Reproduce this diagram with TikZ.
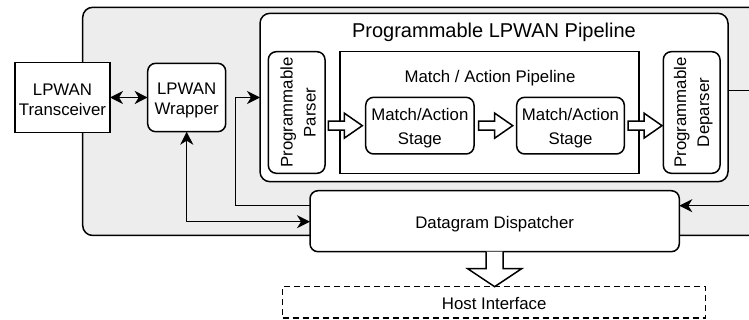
\documentclass[tikz,border=0pt]{standalone}
\usepackage{fontspec}
\setmainfont{Liberation Sans}
\usetikzlibrary{arrows.meta,calc}
\begin{document}
\begin{tikzpicture}[x=1pt,y=-1pt, line width=1.5pt,
  box/.style={draw,fill=white,inner sep=0pt,outer sep=0pt,anchor=north west},
  rbox/.style={box,rounded corners=8pt},
  lbl/.style={font=\fontsize{16.8}{20}\selectfont, align=center, inner sep=0pt},
  tx/.style={lbl, yshift=-2.5pt},
  arr/.style={-{Stealth[length=13pt,width=13pt,inset=4pt]}},
  arrboth/.style={{Stealth[length=13pt,width=13pt,inset=4pt]}-{Stealth[length=13pt,width=13pt,inset=4pt]}},
  hollowR/.pic={\draw[fill=white,line width=1.5pt,line join=miter]
     (0,-4.5) -- (16,-4.5) -- (16,-12.5) -- (34,0) -- (16,12.5) -- (16,4.5) -- (0,4.5) -- cycle;},
  hollowD/.pic={\draw[fill=white,line width=1.5pt,line join=miter]
     (-8.5,0) -- (-8.5,17) -- (-27,17) -- (0,35) -- (27,17) -- (8.5,17) -- (8.5,0);}
]
\useasboundingbox (0,0) rectangle (749,320);
\clip (0,0) rectangle (749,320);
\fill[white] (0,0) rectangle (749,320);

% outer gray box
\node[draw,fill=black!7,rounded corners=10pt,anchor=north west,inner sep=0pt,outer sep=0pt,
      minimum width=707,minimum height=228.2] (outer) at (82.7,7.3) {};

% pipeline
\node[rbox,rounded corners=10pt,minimum width=468,minimum height=168.4] (pipe) at (260,13.3) {};
\node[lbl,font=\fontsize{20}{24}\selectfont] (pipettl) at (494,32) {Programmable LPWAN Pipeline};
\node[rbox,minimum width=56.7,minimum height=121.6] (parser) at (268.3,51.7) {};
\node[box,minimum width=299,minimum height=121.6] (map) at (340,51.7) {};
\node[lbl] (mapttl) at (490,78) {Match / Action Pipeline};
\node[rbox,minimum width=108.3,minimum height=56.7] (s1) at (365.7,97.3) {};
\node[rbox,minimum width=107.6,minimum height=56.7] (s2) at (516.7,97.3) {};
\node[tx,font=\fontsize{16.8}{24}\selectfont] (s1L) at (s1.center) {Match/Action\\Stage};
\node[tx,font=\fontsize{16.8}{24}\selectfont] (s2L) at (s2.center) {Match/Action\\Stage};
\node[rbox,minimum width=56.7,minimum height=121.6] (deparser) at (663.3,51.7) {};
\node[lbl,rotate=90,font=\fontsize{16.8}{23}\selectfont] (parserL) at ($(parser.center)+(1.5,0)$) {Programmable\\Parser};
\node[lbl,rotate=90,font=\fontsize{16.8}{23}\selectfont] (deparserL) at ($(deparser.center)+(1.5,0)$) {Programmable\\Deparser};

% left boxes
\node[box,minimum width=95,minimum height=70.4] (trx) at (15,62.3) {};
\node[tx] (trxL) at (trx.center) {LPWAN\\Transceiver};
\node[rbox,minimum width=78,minimum height=68.4] (wrap) at (147.7,63.3) {};
\node[tx] (wrapL) at (wrap.center) {LPWAN\\Wrapper};

% dispatcher and host
\node[rbox,minimum width=369.3,minimum height=61] (disp) at (310,190.7) {};
\node[tx] (dispL) at (disp.center) {Datagram Dispatcher};
\node[box,dash pattern=on 6pt off 4pt,minimum width=423,minimum height=31.5] (host) at (282.7,286.7) {};
\node[tx,yshift=1pt] (hostL) at (host.center) {Host Interface};

% connectors
\coordinate (kA) at (235.7,205.7);
\coordinate (kB) at (186.7,221.7);
\coordinate (rA) at (760,90.7);
\coordinate (rB) at (760,205.7);
\draw[arrboth] (trx.east) -- (wrap.west);
\draw[arr] (disp.west |- kA) -- (kA) |- (pipe.west);
\draw[arrboth] (wrap.south) -- (kB) -- (disp.west |- kB);
\draw (pipe.east |- rA) -- (rA);
\draw[arr] (rB) -- (disp.east |- rB);

% hollow arrows
\pic at ($(parser.east |- s1.west)+(3.3,0)$) {hollowR};
\pic at ($(s1.east)+(4.7,0)$) {hollowR};
\pic at ($(s2.east)+(3.7,0)$) {hollowR};
\pic at (disp.south) {hollowD};
\end{tikzpicture}
\end{document}
